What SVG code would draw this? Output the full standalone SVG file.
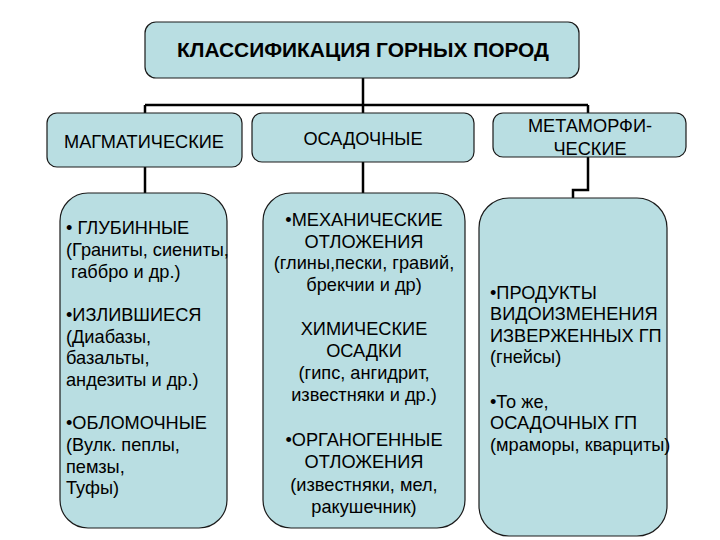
<svg xmlns="http://www.w3.org/2000/svg" width="720" height="540" viewBox="0 0 720 540">
<style>
.box{fill:#b9dee2;stroke:#1a1a1a;stroke-width:1.2}
.t{font-family:"Liberation Sans",Arial,sans-serif;font-size:18.2px;fill:#000}
.c{text-anchor:middle}
.title{font-family:"Liberation Sans",Arial,sans-serif;font-size:20px;font-weight:bold;fill:#000;text-anchor:middle}
.ln{fill:none;stroke:#000;stroke-width:2.5}
</style>
<rect width="720" height="540" fill="#fff"/>
<g id="connectors">
<path class="ln" d="M363 78 V105"/>
<path class="ln" d="M145 105 H588"/>
<path class="ln" d="M145 105 V113"/>
<path class="ln" d="M363 105 V113"/>
<path class="ln" d="M588 105 V113"/>
<path class="ln" d="M145 167 V193"/>
<path class="ln" d="M363 162 V193"/>
<path class="ln" d="M588 157 V190 H573 V198"/>
</g>
<g id="title">
<rect class="box" x="145" y="22" width="434" height="56" rx="11"/>
<text class="title" x="363" y="57" textLength="372" lengthAdjust="spacingAndGlyphs">КЛАССИФИКАЦИЯ ГОРНЫХ ПОРОД</text>
</g>
<g id="magm">
<rect class="box" x="47" y="113" width="195" height="54" rx="10"/>
<text class="t c" x="144" y="147.5">МАГМАТИЧЕСКИЕ</text>
</g>
<g id="osad">
<rect class="box" x="252" y="113" width="222" height="49" rx="10"/>
<text class="t c" x="363" y="145">ОСАДОЧНЫЕ</text>
</g>
<g id="meta">
<rect class="box" x="493" y="113" width="193" height="44" rx="10"/>
<text class="t c" x="590" y="131.5">МЕТАМОРФИ-</text>
<text class="t c" x="590" y="154.5">ЧЕСКИЕ</text>
</g>
<g id="magm-list">
<rect class="box" x="60" y="193" width="167" height="335" rx="28"/>
<text class="t" x="66" y="234">• ГЛУБИННЫЕ</text>
<text class="t" x="66" y="256">(Граниты, сиениты,</text>
<text class="t" x="71" y="278">габбро и др.)</text>
<text class="t" x="66" y="321">•ИЗЛИВШИЕСЯ</text>
<text class="t" x="66" y="343">(Диабазы,</text>
<text class="t" x="66" y="364">базальты,</text>
<text class="t" x="66" y="386">андезиты и др.)</text>
<text class="t" x="66" y="429">•ОБЛОМОЧНЫЕ</text>
<text class="t" x="66" y="451">(Вулк. пеплы,</text>
<text class="t" x="66" y="473">пемзы,</text>
<text class="t" x="66" y="494">Туфы)</text>
</g>
<g id="osad-list">
<rect class="box" x="263" y="193" width="202" height="335" rx="28"/>
<text class="t c" x="364" y="226">•МЕХАНИЧЕСКИЕ</text>
<text class="t c" x="364" y="248">ОТЛОЖЕНИЯ</text>
<text class="t c" x="364" y="269">(глины,пески, гравий,</text>
<text class="t c" x="364" y="291">брекчии и др)</text>
<text class="t c" x="364" y="335">ХИМИЧЕСКИЕ</text>
<text class="t c" x="364" y="357">ОСАДКИ</text>
<text class="t c" x="364" y="379">(гипс, ангидрит,</text>
<text class="t c" x="364" y="401">известняки и др.)</text>
<text class="t c" x="364" y="446">•ОРГАНОГЕННЫЕ</text>
<text class="t c" x="364" y="468">ОТЛОЖЕНИЯ</text>
<text class="t c" x="364" y="491">(известняки, мел,</text>
<text class="t c" x="364" y="513">ракушечник)</text>
</g>
<g id="meta-list">
<rect class="box" x="479" y="198" width="188" height="338" rx="30"/>
<text class="t" x="490" y="299">•ПРОДУКТЫ</text>
<text class="t" x="490" y="320">ВИДОИЗМЕНЕНИЯ</text>
<text class="t" x="490" y="342">ИЗВЕРЖЕННЫХ ГП</text>
<text class="t" x="490" y="363">(гнейсы)</text>
<text class="t" x="490" y="408">•То же,</text>
<text class="t" x="490" y="429">ОСАДОЧНЫХ ГП</text>
<text class="t" x="490" y="451">(мраморы, кварциты)</text>
</g>
</svg>
